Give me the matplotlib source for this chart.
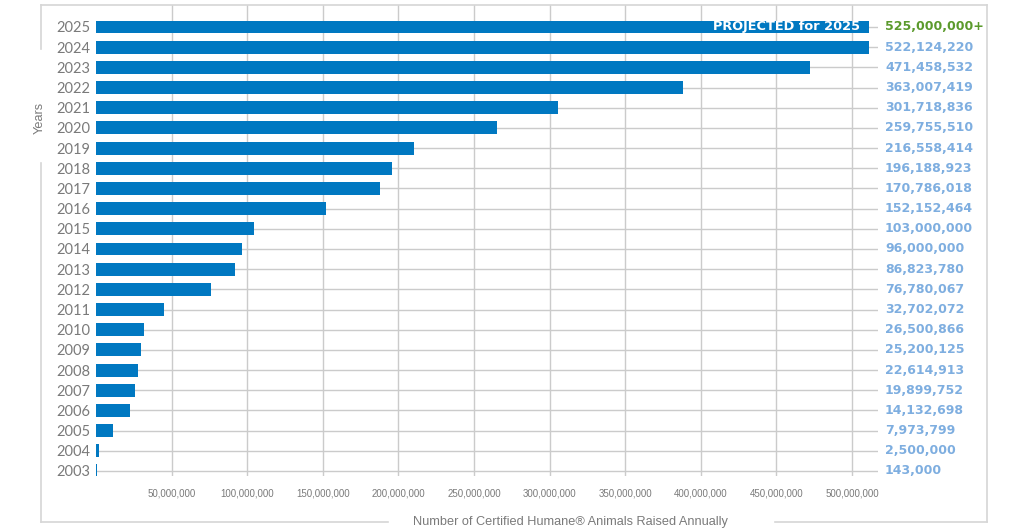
import matplotlib.pyplot as plt
from matplotlib.lines import Line2D

# ------------------------------------------------------------------
# data
# ------------------------------------------------------------------
YEARS = [2003, 2004, 2005, 2006, 2007, 2008, 2009, 2010, 2011, 2012, 2013,
         2014, 2015, 2016, 2017, 2018, 2019, 2020, 2021, 2022, 2023, 2024, 2025]

# bar lengths as drawn in the picture (millions)
BAR_M = [0.5, 2.0, 11.2, 22.5, 25.8, 27.8, 29.8, 31.7, 45.0, 76.0, 92.0,
         96.6, 104.5, 152.0, 188.0, 196.0, 210.0, 265.0, 305.6, 388.0, 472.0,
         511.0, 511.0]

VALUE_LABELS = ["143,000", "2,500,000", "7,973,799", "14,132,698", "19,899,752",
                "22,614,913", "25,200,125", "26,500,866", "32,702,072",
                "76,780,067", "86,823,780", "96,000,000", "103,000,000",
                "152,152,464", "170,786,018", "196,188,923", "216,558,414",
                "259,755,510", "301,718,836", "363,007,419", "471,458,532",
                "522,124,220", "525,000,000+"]

XTICKS_M = [50, 100, 150, 200, 250, 300, 350, 400, 450, 500]

BAR_COLOR = "#0078c1"
LABEL_BLUE = "#7eaee0"
LABEL_GREEN = "#5b9a2c"
GREY_TXT = "#7a7a7a"
GRID = "#cbcbcb"
FRAME = "#d6d6d6"

W, H = 1024, 532


def fx(x):
    return x / W


def fy(y):
    return 1 - y / H


fig = plt.figure(figsize=(W / 100, H / 100), dpi=100)
ax = fig.add_axes([fx(96), fy(476), fx(878) - fx(96), fy(5) - fy(476)])

rows = list(range(len(YEARS)))
vals = [v * 1e6 for v in BAR_M]
ax.barh(rows, vals, height=0.64, color=BAR_COLOR, zorder=3)

ax.set_xlim(0, 517.2e6)
ax.set_ylim(-0.25, 23.09)

ax.set_xticks([t * 1e6 for t in XTICKS_M])
ax.set_xticklabels([f"{t * 1_000_000:,}" for t in XTICKS_M],
                   fontsize=7.0, color=GREY_TXT, family="Liberation Sans")
ax.set_yticks(rows)
ax.set_yticklabels([str(y) for y in YEARS], fontsize=10.5, color=GREY_TXT,
                   family="Lato")
ax.tick_params(axis="x", length=0, pad=9)
ax.tick_params(axis="y", length=0, pad=4)

ax.grid(True, color=GRID, linewidth=1.0, zorder=0)
for sp in ax.spines.values():
    sp.set_visible(False)

# value labels right of the plot
for i, lab in enumerate(VALUE_LABELS):
    col = LABEL_GREEN if YEARS[i] == 2025 else LABEL_BLUE
    ax.annotate(lab, xy=(1.0, rows[i]), xycoords=("axes fraction", "data"),
                xytext=(5, 0), textcoords="offset points",
                ha="left", va="center", fontsize=9.0, fontweight="bold",
                color=col, family="DejaVu Sans")

# label inside the projected bar
ax.annotate("PROJECTED for 2025", xy=(vals[-1], rows[-1]),
            xytext=(-6, 0), textcoords="offset points",
            ha="right", va="center", fontsize=9.3, fontweight="bold",
            color="white", family="DejaVu Sans", zorder=5)

# axis titles
fig.text(fx(40), fy(118), "Years", rotation=90, ha="center", va="center",
         fontsize=9.2, color=GREY_TXT, family="Liberation Sans")
fig.text(fx(570), fy(522), "Number of Certified Humane\u00ae Animals Raised Annually",
         ha="center", va="center", fontsize=9.2, color=GREY_TXT,
         family="Liberation Sans")

# outer frame with gaps for the titles
segments = [
    ((41, 987), (5, 5)),
    ((987, 987), (5, 522)),
    ((41, 388), (522, 522)),
    ((775, 987), (522, 522)),
    ((41, 41), (5, 49)),
    ((41, 41), (163, 522)),
]
for xs, ys in segments:
    fig.add_artist(Line2D([fx(x) for x in xs], [fy(y) for y in ys],
                          color=FRAME, linewidth=1.2))

fig.savefig("out.png", dpi=100)
